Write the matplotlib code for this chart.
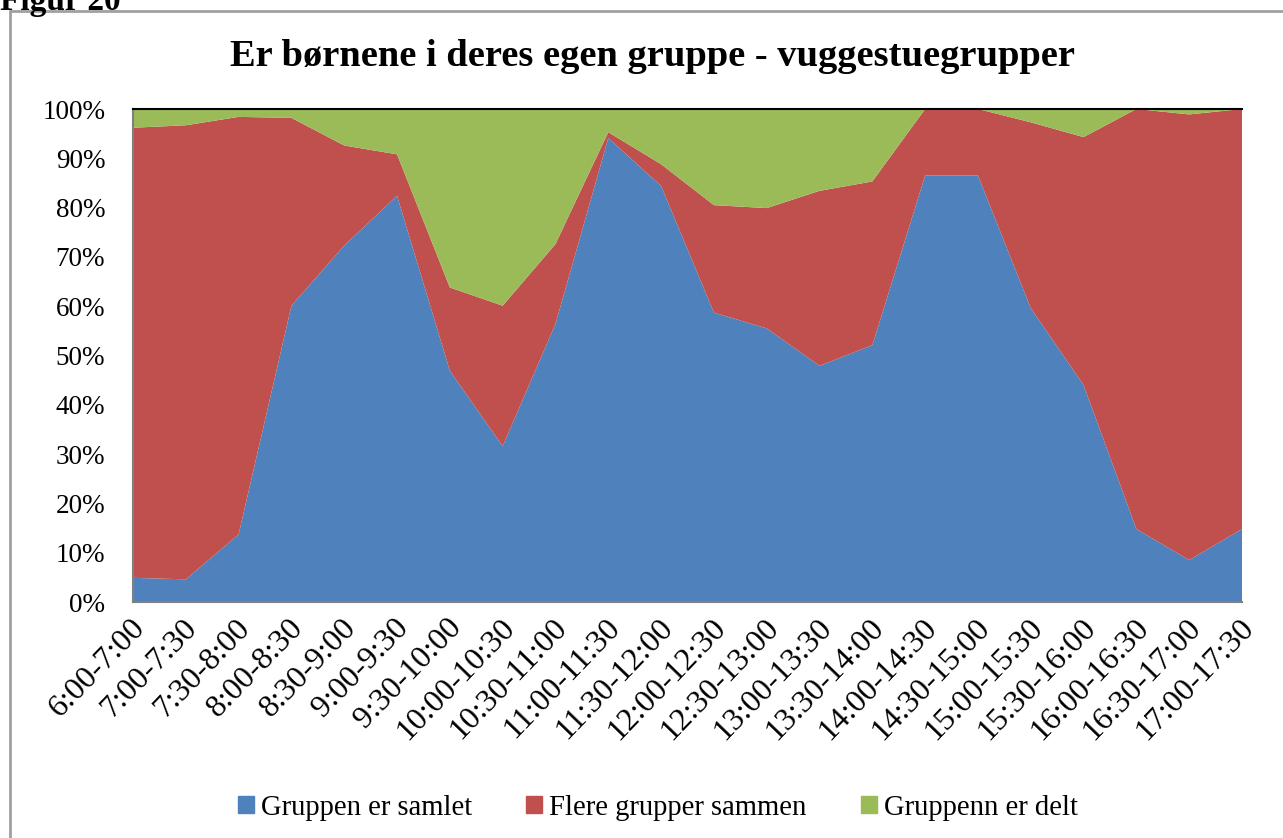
import matplotlib.pyplot as plt
import matplotlib.patches as mpatches
import matplotlib.transforms as mtransforms
from matplotlib.ticker import PercentFormatter

plt.rcParams['font.family'] = ['Liberation Serif', 'DejaVu Serif']

# tidsrom
tider = ['6:00-7:00', '7:00-7:30', '7:30-8:00', '8:00-8:30', '8:30-9:00',
         '9:00-9:30', '9:30-10:00', '10:00-10:30', '10:30-11:00', '11:00-11:30',
         '11:30-12:00', '12:00-12:30', '12:30-13:00', '13:00-13:30', '13:30-14:00',
         '14:00-14:30', '14:30-15:00', '15:00-15:30', '15:30-16:00', '16:00-16:30',
         '16:30-17:00', '17:00-17:30']

# andel i prosent
samlet = [4.9, 4.6, 13.7, 60.1, 72.3, 82.4, 46.9, 31.6, 56.4, 94.1, 84.4,
          58.7, 55.5, 47.9, 52.1, 86.5, 86.5, 59.6, 44.0, 14.8, 8.5, 14.8]
sammen = [91.3, 92.1, 84.7, 38.1, 20.3, 8.4, 16.9, 28.5, 16.2, 1.2, 4.4,
          21.8, 24.4, 35.5, 33.2, 13.5, 13.5, 37.7, 50.3, 85.2, 90.4, 85.2]
delt = [3.8, 3.3, 1.6, 1.8, 7.4, 9.2, 36.2, 39.9, 27.4, 4.7, 11.2,
        19.5, 20.1, 16.6, 14.7, 0.0, 0.0, 2.7, 5.7, 0.0, 1.1, 0.0]

navn = ['Gruppen er samlet', 'Flere grupper sammen', 'Gruppenn er delt']
farger = ['#4F81BD', '#C0504D', '#9BBB59']

fig = plt.figure(figsize=(12.83, 8.38), dpi=100)
ax = fig.add_axes([133 / 1283, 1 - 602 / 838, 1109 / 1283, 493 / 838])

x = list(range(len(tider)))
ax.stackplot(x, samlet, sammen, delt, colors=farger, labels=navn, linewidth=0)

ax.set_xlim(0, len(tider) - 1)
ax.set_ylim(0, 100)
ax.set_yticks(range(0, 101, 10))
ax.yaxis.set_major_formatter(PercentFormatter(decimals=0))
ax.set_xticks(x)
ax.set_xticklabels(tider, rotation=46, ha='right', va='top', rotation_mode='anchor')
ax.tick_params(axis='both', length=0)
ax.tick_params(axis='y', pad=20, labelsize=19.5)
ax.tick_params(axis='x', pad=8, labelsize=23)

skift = mtransforms.ScaledTranslation(-3 / 100, 0, fig.dpi_scale_trans)
for lab in ax.get_xticklabels():
    lab.set_transform(lab.get_transform() + skift)

for s in ['left', 'bottom']:
    ax.spines[s].set_color('#808080')
    ax.spines[s].set_linewidth(1.5)
ax.spines['top'].set_color('black')
ax.spines['top'].set_linewidth(1.5)
ax.spines['right'].set_visible(False)

fig.text(653 / 1283, 1 - 56 / 838, 'Er børnene i deres egen gruppe - vuggestuegrupper',
         ha='center', va='center', fontsize=27.7, fontweight='bold')

# ramme rundt figuren
fig.patches.append(mpatches.Rectangle((10 / 1283, -0.1), 1.2, 1 - 11 / 838 + 0.1,
                                      transform=fig.transFigure, fill=False,
                                      edgecolor='#A0A0A0', linewidth=2))
fig.text(0.0, 1 + 14 / 838, 'Figur 20', ha='left', va='top', fontsize=24, fontweight='bold')

handles = [mpatches.Patch(color=c) for c in farger]
fig.legend(handles, navn, loc='center', bbox_to_anchor=(658 / 1283, 1 - 808 / 838), ncol=3,
           frameon=False, fontsize=20.6, handlelength=0.55, handleheight=0.55,
           handletextpad=0.25, columnspacing=1.9)

fig.savefig('out.png', dpi=100)
